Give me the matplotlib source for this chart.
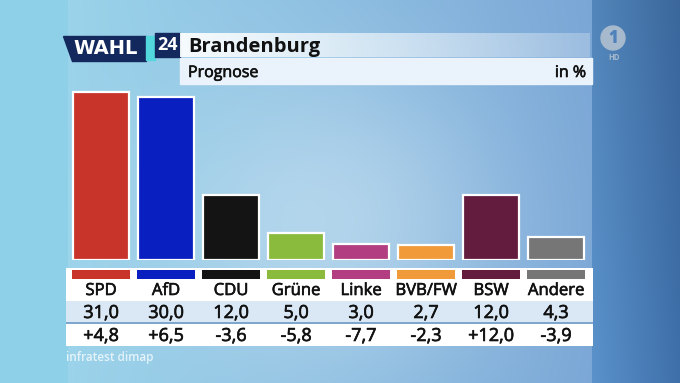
import matplotlib
matplotlib.use("Agg")
import matplotlib.pyplot as plt
import matplotlib.patheffects as pe
import numpy as np
from matplotlib.patches import Polygon, Rectangle, Circle

plt.rcParams['font.family'] = ['Open Sans', 'DejaVu Sans']

# data
parties = ["SPD", "AfD", "CDU", "Grüne", "Linke", "BVB/FW", "BSW", "Andere"]
shares = [31.0, 30.0, 12.0, 5.0, 3.0, 2.7, 12.0, 4.3]
changes = [4.8, 6.5, -3.6, -5.8, -7.7, -2.3, 12.0, -3.9]
colors = ["#c8332a", "#0a1fbf", "#141414", "#8abb3c", "#b23d80",
          "#f09a3a", "#641c3e", "#767676"]

W, H = 680, 383
thick = [pe.withStroke(linewidth=0.45, foreground="#111111")]


def fmt(v, sign=False):
    s = ("%+.1f" if sign else "%.1f") % v
    return s.replace(".", ",")


def hex2rgb(h):
    h = h.lstrip("#")
    return np.array([int(h[i:i + 2], 16) for i in (0, 2, 4)]) / 255.0


# background (broadcast look)
yy, xx = np.mgrid[0:H, 0:W].astype(float)
img = np.zeros((H, W, 3))
left = hex2rgb("#8fd0e9")
pl, pr = hex2rgb("#9ad3ea"), hex2rgb("#7aa6d6")
rl, rr = hex2rgb("#5a92cb"), hex2rgb("#3f6fa9")
t = np.clip((xx - 68) / (592 - 68), 0, 1)[..., None]
panel = pl * (1 - t) + pr * t
glow = np.exp(-(((xx - 330) / 170) ** 2 + ((yy - 220) / 150) ** 2))[..., None]
panel = panel * (1 - 0.5 * glow) + 0.5 * glow * np.array([0.86, 0.93, 0.97])
tr = np.clip((xx - 592) / (W - 592), 0, 1)[..., None]
right = rl * (1 - tr) + rr * tr
right = right * (1 - 0.08 * (1 - yy / H))[..., None]
img[:] = panel
img[xx < 68] = left
img[xx >= 592] = right[xx >= 592]

fig = plt.figure(figsize=(W / 100, H / 100), dpi=100)
bg = fig.add_axes([0, 0, 1, 1])
bg.imshow(img, extent=(0, W, H, 0), aspect="auto", interpolation="bilinear")
bg.axis("off")

# header
bg.add_patch(Polygon([(63, 36), (146, 36), (146, 61), (72, 61)],
                     closed=True, color="#13285c"))
bg.add_patch(Rectangle((146, 36), 9, 24, color="#52d8dc"))
bg.add_patch(Rectangle((155, 33), 25, 24, color="#13285c"))
bg.text(106, 49, "WAHL", color="white", fontsize=14, fontweight="heavy",
        ha="center", va="center", family=["DejaVu Sans"])
bg.text(167.5, 45.5, "24", color="white", fontsize=13, fontweight="bold",
        ha="center", va="center")
grad = np.ones((1, 256, 4))
grad[..., 3] = np.linspace(0.92, 0.25, 256)
bg.imshow(grad, extent=(180, 590, 57, 33), aspect="auto", zorder=2)
bg.add_patch(Rectangle((180, 58), 412, 26, color="#eaf3fb", zorder=2))
bg.text(188, 52, "Brandenburg", fontsize=14.5, fontweight="bold",
        color="#111111", va="baseline", zorder=3)
bg.text(188, 77, "Prognose", fontsize=11.5, color="#111111",
        va="baseline", zorder=3, path_effects=thick)
bg.text(586, 77, "in %", fontsize=11.5, color="#111111", ha="right",
        va="baseline", zorder=3, path_effects=thick)

# logo
bg.add_patch(Circle((613, 38), 12, color="#a7b9cc"))
bg.text(613.5, 38.5, "1", fontsize=12, fontweight="heavy", color="#4f82ba",
        ha="center", va="center")
bg.text(614, 58, "HD", fontsize=5.5, fontweight="bold", color="#a7b9cc",
        ha="center", va="center")

bg.text(66, 358, "infratest dimap", fontsize=8.5, fontweight="semibold",
        color="white", alpha=0.75, va="center")
bg.set_xlim(0, W)
bg.set_ylim(H, 0)

# bars
x = np.arange(len(parties))
x0 = -(101 - 66) / 65
x1 = x0 + 527 / 65
ax = fig.add_axes([66 / W, (H - 260) / H, 527 / W, (260 - 84) / H])
ax.bar(x, shares, width=0.86, color=colors, edgecolor="white",
       linewidth=1.6)
ax.set_xlim(x0, x1)
ax.set_ylim(0, 176 / 5.42)
ax.axis("off")

# table
tx = fig.add_axes([66 / W, (H - 346) / H, 527 / W, 78 / H])
tx.set_xlim(x0, x1)
tx.set_ylim(346, 268)
tx.axhspan(268, 301, color="white", lw=0)
tx.axhspan(301, 322, color="#d9e8f4", lw=0)
tx.axhspan(322, 324, color="#7ea7d0", lw=0)
tx.axhspan(324, 346, color="white", lw=0)
tx.bar(x, 9.5, bottom=269.5, width=0.89, color=colors)
for i, p in enumerate(parties):
    tx.text(i, 295, p, ha="center", va="baseline", fontsize=12,
            color="#111111", path_effects=thick)
    tx.text(i, 318, fmt(shares[i]), ha="center", va="baseline",
            fontsize=13, color="#111111", path_effects=thick)
    tx.text(i, 341, fmt(changes[i], True), ha="center", va="baseline",
            fontsize=13, color="#111111", path_effects=thick)
tx.axis("off")

fig.savefig("out.png", dpi=100)
